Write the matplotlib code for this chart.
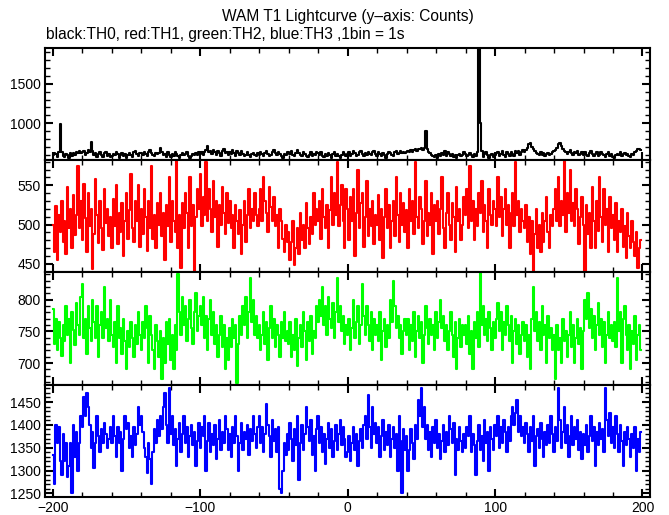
"""WAM T1 lightcurve, four threshold channels, 1 s bins."""

import matplotlib

matplotlib.use("Agg")
import matplotlib.pyplot as plt
import numpy as np
from matplotlib.ticker import MultipleLocator

plt.rcParams["font.family"] = ["Liberation Sans", "DejaVu Sans"]

# bin centres, seconds relative to trigger
time_s = np.arange(-200, 200)

th0 = [
    590, 625, 608, 575, 640, 990, 630, 585, 570, 612, 596, 560, 618, 580, 626, 598, 640, 615, 650, 620,
    635, 648, 600, 625, 655, 640, 760, 648, 590, 622, 575, 610, 638, 596, 570, 615, 630, 585, 604, 565,
    580, 612, 590, 630, 608, 562, 598, 625, 578, 610, 555, 590, 620, 600, 575, 632, 645, 605, 585, 615,
    625, 600, 640, 612, 580, 630, 660, 618, 595, 580, 625, 605, 615, 690, 630, 590, 612, 575, 628, 600,
    570, 610, 585, 632, 605, 578, 560, 598, 625, 590, 608, 636, 585, 556, 580, 612, 592, 620, 598, 630,
    608, 640, 590, 632, 655, 705, 630, 650, 610, 660, 628, 600, 645, 618, 585, 650, 668, 620, 638, 602,
    640, 612, 655, 625, 588, 642, 618, 600, 652, 612, 585, 602, 630, 595, 570, 610, 625, 600, 585, 615,
    598, 632, 610, 580, 625, 645, 608, 585, 602, 640, 662, 615, 590, 628, 605, 582, 562, 610, 596, 628,
    635, 605, 648, 600, 582, 625, 655, 615, 598, 578, 628, 606, 585, 565, 602, 630, 585, 612, 595, 628,
    615, 598, 638, 585, 568, 605, 580, 622, 600, 562, 608, 632, 584, 605, 580, 555, 598, 635, 612, 588,
    605, 630, 585, 610, 648, 625, 582, 600, 630, 645, 608, 580, 622, 598, 640, 612, 592, 630, 648, 605,
    585, 628, 606, 578, 622, 600, 562, 605, 640, 615, 595, 580, 630, 646, 610, 622, 650, 625, 640, 615,
    628, 650, 632, 658, 630, 662, 668, 645, 670, 675, 680, 665, 690, 905, 670, 640, 615, 598, 580, 565,
    590, 560, 605, 585, 625, 602, 645, 580, 630, 605, 582, 610, 570, 598, 558, 592, 612, 585, 600, 628,
    605, 580, 592, 615, 600, 568, 610, 585, 630, 1945, 1005, 650, 575, 612, 635, 598, 560, 590, 612, 572,
    590, 615, 635, 582, 610, 650, 598, 570, 628, 608, 585, 635, 612, 580, 642, 615, 648, 600, 630, 660,
    640, 665, 690, 735, 750, 700, 668, 642, 625, 610, 602, 630, 598, 618, 585, 605, 625, 592, 612, 630,
    645, 660, 680, 735, 752, 710, 672, 650, 638, 612, 628, 655, 620, 600, 640, 615, 648, 598, 612, 632,
    602, 628, 590, 578, 620, 642, 605, 582, 608, 630, 585, 600, 628, 612, 592, 575, 610, 630, 585, 605,
    570, 560, 590, 612, 598, 632, 582, 608, 625, 590, 605, 585, 565, 608, 596, 630, 650, 668, 670, 665,
]

th1 = [
    500, 465, 523, 455, 512, 490, 530, 478, 505, 462, 548, 495, 520, 470, 538, 487, 512, 575, 496, 530,
    480, 552, 508, 465, 540, 498, 520, 443, 488, 558, 512, 476, 530, 495, 468, 545, 502, 520, 485, 510,
    470, 532, 498, 550, 475, 515, 490, 528, 460, 505, 540, 482, 518, 565, 495, 478, 530, 505, 550, 472,
    520, 488, 545, 510, 466, 530, 495, 575, 482, 512, 470, 528, 500, 540, 485, 515, 455, 525, 498, 560,
    478, 530, 505, 490, 585, 470, 512, 445, 528, 496, 540, 515, 470, 560, 498, 525, 440, 510, 545, 520,
    565, 498, 535, 512, 580, 505, 545, 520, 490, 555, 510, 530, 472, 525, 500, 548, 515, 488, 540, 502,
    530, 495, 512, 470, 525, 505, 488, 518, 462, 500, 530, 478, 512, 545, 495, 520, 505, 540, 512, 498,
    520, 545, 505, 560, 530, 515, 490, 548, 522, 505, 535, 498, 512, 470, 520, 505, 482, 465, 500, 478,
    490, 455, 478, 505, 448, 470, 495, 462, 515, 480, 500, 470, 528, 495, 475, 510, 488, 540, 500, 520,
    505, 530, 482, 545, 510, 495, 525, 470, 518, 560, 500, 540, 512, 580, 498, 525, 550, 505, 470, 545,
    520, 480, 535, 505, 545, 460, 515, 570, 495, 528, 540, 472, 510, 555, 485, 520, 498, 530, 475, 512,
    500, 538, 480, 520, 458, 510, 545, 495, 525, 470, 505, 530, 485, 560, 512, 478, 540, 500, 528, 490,
    518, 470, 545, 505, 530, 488, 580, 510, 495, 535, 520, 475, 505, 555, 485, 515, 500, 540, 462, 525,
    505, 530, 488, 520, 560, 495, 470, 515, 540, 500, 480, 528, 510, 465, 548, 505, 520, 480, 500, 535,
    512, 545, 495, 575, 505, 530, 480, 520, 498, 540, 515, 555, 490, 525, 505, 470, 545, 512, 500, 530,
    520, 498, 560, 510, 535, 485, 520, 545, 500, 525, 470, 515, 540, 498, 580, 512, 530, 490, 520, 505,
    495, 525, 478, 510, 462, 505, 440, 488, 520, 470, 500, 465, 515, 478, 505, 535, 490, 470, 512, 498,
    520, 545, 505, 560, 498, 530, 512, 582, 490, 540, 515, 570, 505, 528, 498, 545, 520, 475, 510, 535,
    500, 440, 525, 488, 515, 470, 548, 505, 470, 530, 492, 560, 510, 478, 545, 500, 520, 465, 535, 495,
    512, 480, 528, 465, 505, 490, 520, 472, 498, 458, 515, 485, 470, 505, 478, 460, 490, 445, 470, 480,
]

th2 = [
    785, 730, 770, 720, 765, 740, 712, 760, 735, 790, 745, 770, 700, 780, 752, 728, 795, 760, 745, 805,
    825, 740, 770, 715, 790, 755, 735, 800, 765, 740, 790, 710, 760, 780, 740, 820, 755, 770, 735, 800,
    745, 725, 765, 700, 790, 740, 755, 715, 770, 735, 690, 750, 725, 765, 740, 710, 760, 730, 780, 745,
    720, 765, 740, 790, 755, 700, 775, 745, 720, 690, 760, 735, 710, 750, 675, 740, 700, 765, 730, 770,
    705, 745, 690, 760, 720, 840, 780, 745, 805, 760, 790, 735, 770, 800, 755, 730, 780, 810, 750, 775,
    790, 760, 805, 740, 775, 720, 770, 800, 745, 780, 730, 760, 710, 745, 775, 725, 760, 690, 740, 705,
    755, 725, 770, 740, 760, 668, 730, 775, 745, 790, 760, 805, 740, 780, 835, 765, 800, 745, 775, 740,
    760, 720, 745, 780, 730, 765, 705, 755, 790, 740, 770, 725, 760, 745, 710, 765, 740, 780, 735, 750,
    730, 765, 710, 745, 720, 770, 695, 740, 760, 725, 780, 750, 705, 765, 735, 775, 715, 750, 740, 790,
    765, 800, 775, 820, 760, 790, 745, 805, 770, 755, 795, 740, 780, 835, 765, 790, 750, 775, 730, 760,
    745, 770, 720, 755, 800, 740, 765, 790, 730, 760, 825, 775, 745, 790, 760, 735, 780, 720, 770, 745,
    760, 735, 780, 705, 750, 770, 725, 760, 740, 800, 765, 830, 790, 755, 775, 740, 760, 715, 750, 770,
    745, 770, 720, 760, 735, 780, 710, 750, 775, 740, 765, 700, 745, 790, 755, 730, 770, 745, 760, 720,
    780, 740, 765, 800, 755, 775, 735, 760, 720, 750, 780, 745, 710, 765, 690, 740, 770, 725, 760, 745,
    760, 730, 775, 715, 750, 690, 765, 740, 780, 725, 843, 760, 790, 745, 770, 735, 780, 755, 720, 765,
    740, 770, 795, 750, 780, 720, 765, 745, 790, 760, 735, 775, 700, 750, 770, 730, 760, 715, 745, 765,
    735, 760, 710, 745, 690, 770, 820, 750, 780, 735, 765, 720, 790, 745, 760, 700, 775, 740, 755, 720,
    745, 675, 760, 720, 740, 700, 770, 735, 750, 710, 745, 780, 725, 760, 700, 740, 770, 730, 755, 690,
    750, 800, 770, 810, 755, 785, 740, 775, 720, 760, 795, 745, 770, 725, 765, 700, 745, 780, 740, 760,
    735, 765, 725, 835, 750, 780, 700, 770, 790, 745, 720, 760, 690, 750, 730, 775, 705, 745, 760, 720,
]

th3 = [
    1335, 1270, 1400, 1360, 1395, 1320, 1290, 1380, 1320, 1360, 1285, 1310, 1360, 1250, 1400, 1330, 1385, 1300, 1360, 1420,
    1395, 1460, 1420, 1470, 1440, 1400, 1350, 1385, 1305, 1360, 1420, 1375, 1340, 1390, 1360, 1405, 1380, 1350, 1370, 1395,
    1360, 1420, 1375, 1330, 1395, 1360, 1385, 1300, 1370, 1420, 1390, 1405, 1350, 1375, 1330, 1395, 1355, 1380, 1440, 1400,
    1420, 1385, 1350, 1330, 1295, 1360, 1325, 1270, 1340, 1390, 1360, 1410, 1375, 1420, 1390, 1440, 1470, 1400, 1360, 1480,
    1380, 1420, 1355, 1390, 1310, 1370, 1405, 1340, 1380, 1420, 1360, 1395, 1330, 1375, 1400, 1355, 1385, 1310, 1365, 1405,
    1350, 1395, 1375, 1420, 1300, 1365, 1405, 1340, 1380, 1355, 1400, 1325, 1370, 1410, 1345, 1385, 1360, 1420, 1390, 1345,
    1380, 1330, 1395, 1360, 1420, 1375, 1300, 1360, 1405, 1345, 1385, 1370, 1400, 1335, 1390, 1365, 1420, 1380, 1350, 1395,
    1420, 1360, 1395, 1340, 1380, 1445, 1400, 1375, 1330, 1410, 1365, 1390, 1340, 1395, 1260, 1250, 1300, 1360, 1335, 1380,
    1345, 1405, 1370, 1320, 1390, 1355, 1420, 1280, 1360, 1400, 1345, 1380, 1440, 1395, 1365, 1410, 1335, 1375, 1300, 1390,
    1420, 1360, 1395, 1340, 1380, 1315, 1370, 1405, 1350, 1390, 1330, 1365, 1400, 1345, 1380, 1410, 1355, 1395, 1370, 1330,
    1340, 1375, 1320, 1360, 1395, 1345, 1380, 1310, 1365, 1390, 1350, 1400, 1420, 1370, 1465, 1395, 1350, 1440, 1380, 1405,
    1360, 1395, 1330, 1375, 1410, 1345, 1385, 1355, 1400, 1330, 1370, 1395, 1350, 1380, 1300, 1420, 1365, 1250, 1390, 1345,
    1375, 1300, 1345, 1390, 1360, 1325, 1400, 1370, 1455, 1420, 1480, 1395, 1440, 1370, 1400, 1345, 1385, 1330, 1395, 1360,
    1410, 1350, 1380, 1325, 1365, 1400, 1340, 1385, 1355, 1420, 1390, 1360, 1405, 1290, 1370, 1345, 1395, 1365, 1340, 1380,
    1350, 1395, 1375, 1420, 1340, 1380, 1355, 1290, 1365, 1400, 1345, 1375, 1320, 1410, 1360, 1385, 1300, 1395, 1370, 1345,
    1400, 1375, 1420, 1350, 1395, 1360, 1410, 1385, 1340, 1395, 1365, 1420, 1440, 1400, 1425, 1455, 1385, 1420, 1375, 1395,
    1360, 1405, 1380, 1340, 1395, 1365, 1420, 1310, 1375, 1390, 1350, 1405, 1370, 1330, 1385, 1355, 1400, 1360, 1420, 1380,
    1340, 1395, 1365, 1480, 1410, 1350, 1385, 1440, 1360, 1400, 1330, 1375, 1420, 1355, 1395, 1370, 1410, 1345, 1385, 1325,
    1380, 1355, 1400, 1340, 1375, 1420, 1365, 1395, 1310, 1385, 1355, 1405, 1370, 1390, 1340, 1480, 1410, 1375, 1425, 1360,
    1395, 1350, 1420, 1380, 1340, 1400, 1365, 1310, 1385, 1355, 1395, 1370, 1330, 1380, 1350, 1395, 1300, 1370, 1340, 1385,
]

series = [th0, th1, th2, th3]
colors = ["black", "#ff0000", "#00ff00", "#0000ff"]
ylims = [(530, 1957), (439, 582), (666, 843), (1242, 1488)]
major_y = [500, 50, 50, 50]
minor_y = [100, 10, 10, 10]

fig, axes = plt.subplots(4, 1, sharex=True, figsize=(6.69, 5.15), dpi=100)
fig.subplots_adjust(left=0.067, right=0.972, top=0.907, bottom=0.035, hspace=0)

for ax, y, c, lim, maj, mnr in zip(axes, series, colors, ylims, major_y, minor_y):
    ax.step(time_s, y, where="mid", color=c, lw=1.5)
    ax.set_ylim(lim)
    ax.set_xlim(-205.5, 205.3)
    ax.xaxis.set_major_locator(MultipleLocator(100))
    ax.xaxis.set_minor_locator(MultipleLocator(20))
    ax.yaxis.set_major_locator(MultipleLocator(maj))
    ax.yaxis.set_minor_locator(MultipleLocator(mnr))
    ax.tick_params(which="both", direction="in", top=True, right=True, labelsize=10)
    ax.tick_params(which="major", length=6, width=1.5, pad=3)
    ax.tick_params(which="minor", length=3.5, width=1.0)
    for s in ax.spines.values():
        s.set_linewidth(1.5)

fig.text(347.5 / 669, 1 - 17 / 515, "WAM T1 Lightcurve (y\u2013axis: Counts)",
         ha="center", va="center", fontsize=11.2)
fig.text(46 / 669, 1 - 35 / 515, "black:TH0, red:TH1, green:TH2, blue:TH3 ,1bin = 1s",
         ha="left", va="center", fontsize=11.2)

fig.savefig("out.png", dpi=100)
